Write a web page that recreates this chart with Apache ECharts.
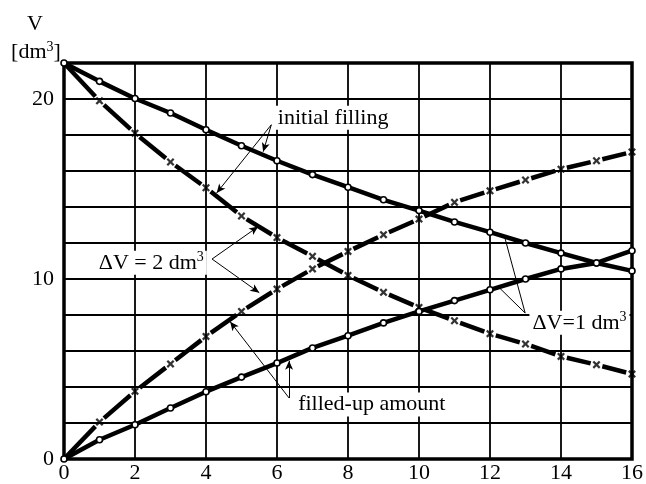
<!DOCTYPE html>
<html>
<head>
<meta charset="utf-8">
<script src="https://cdn.jsdelivr.net/npm/echarts@6/dist/echarts.min.js"></script>
<style>
html,body{margin:0;padding:0;background:#fff;}
#chart{width:646px;height:484px;}
</style>
</head>
<body>
<div id="chart"></div>
<script>
// ---- data ----
const xValues = [0,1,2,3,4,5,6,7,8,9,10,11,12,13,14,15,16];
const initialFill1 = [22, 20.98, 20.03, 19.22, 18.29, 17.4, 16.57, 15.8, 15.1, 14.4, 13.8, 13.17, 12.6, 12.0, 11.44, 10.89, 10.45];
const initialFill2 = [22, 19.9, 18.1, 16.5, 15.07, 13.5, 12.3, 11.26, 10.2, 9.26, 8.42, 7.68, 6.96, 6.39, 5.7, 5.24, 4.72];
const filledUp1 = [0, 1.07, 1.9, 2.83, 3.74, 4.55, 5.33, 6.17, 6.85, 7.56, 8.2, 8.8, 9.4, 10.0, 10.56, 10.89, 11.57];
const filledUp2 = [0, 2.05, 3.76, 5.28, 6.81, 8.2, 9.44, 10.56, 11.53, 12.46, 13.33, 14.26, 14.9, 15.5, 16.1, 16.57, 17.06];
const yTickLabels = [0, 10, 20];

// annotation texts (anchored in data coordinates); sup = superscript part
const annoTexts = [
  {text: 'initial filling', sup: '', at: [7.58, 18.96]},
  {text: 'ΔV = 2 dm', sup: '3', at: [2.46, 10.9]},
  {text: 'filled-up amount', sup: '', at: [8.67, 3.03]},
  {text: 'ΔV=1 dm', sup: '3', at: [14.52, 7.57]}
];
// leader lines with arrow heads [from, to]
const arrowLeaders = [
  [[5.84, 18.57], [5.61, 17.07]],
  [[5.84, 18.57], [4.30, 14.78]],
  [[4.17, 11.11], [5.47, 12.91]],
  [[4.17, 11.11], [5.50, 9.24]],
  [[6.34, 3.39], [6.34, 5.46]],
  [[6.34, 3.39], [4.68, 7.63]]
];
// leader lines without arrow heads
const plainLeaders = [
  [[12.99, 8.11], [12.42, 12.28]],
  [[12.99, 8.11], [12.27, 9.5]]
];

const FONT = 'Liberation Serif';
const pairs = (ys) => xValues.map((x, i) => [x, ys[i]]);
const segs = (ys) => xValues.slice(1).map((x, i) => [xValues[i], ys[i], x, ys[i + 1]]);
const X_SYMBOL = 'path://M0,2L2,0L5,3L8,0L10,2L7,5L10,8L8,10L5,7L2,10L0,8L3,5Z';

function dashRender(params, api) {
  const p0 = api.coord([api.value(0), api.value(1)]);
  const p1 = api.coord([api.value(2), api.value(3)]);
  const dx = p1[0] - p0[0], dy = p1[1] - p0[1];
  const len = Math.sqrt(dx * dx + dy * dy);
  const g0 = params.dataIndex === 0 ? 2 : 6;
  const g1 = 6;
  const ux = dx / len, uy = dy / len;
  return {
    type: 'line',
    shape: {x1: p0[0] + ux * g0, y1: p0[1] + uy * g0, x2: p1[0] - ux * g1, y2: p1[1] - uy * g1},
    style: {stroke: '#000', lineWidth: 4.5, lineCap: 'butt'}
  };
}

function solidSeries(ys, extra) {
  return Object.assign({
    type: 'line',
    data: pairs(ys),
    clip: false,
    symbol: 'circle',
    symbolSize: 6,
    showSymbol: true,
    lineStyle: {color: '#000', width: 4.5},
    itemStyle: {color: '#fff', borderColor: '#000', borderWidth: 1.6},
    emphasis: {disabled: true},
    silent: true,
    z: 4
  }, extra || {});
}
function dashSeries(ys) {
  return {
    type: 'custom',
    data: segs(ys),
    encode: {x: [0, 2], y: [1, 3]},
    renderItem: dashRender,
    clip: false,
    silent: true,
    z: 3
  };
}
function crossSeries(ys) {
  return {
    type: 'scatter',
    data: pairs(ys).slice(1),
    symbol: X_SYMBOL,
    symbolSize: 8,
    itemStyle: {color: '#000'},
    clip: false,
    silent: true,
    emphasis: {disabled: true},
    z: 3
  };
}

const markLineCommon = {
  silent: true,
  label: {show: false},
  emphasis: {disabled: true},
  lineStyle: {color: '#000', width: 1, type: 'solid'},
  animation: false
};

const chart = echarts.init(document.getElementById('chart'), null, {renderer: 'canvas'});
chart.setOption({
  animation: false,
  backgroundColor: '#fff',
  grid: {left: 64, right: 9, top: 63, bottom: 25, show: true, borderColor: '#000', borderWidth: 3.5, backgroundColor: 'transparent'},
  xAxis: {
    type: 'value', min: 0, max: 16, interval: 2,
    axisLine: {show: false}, axisTick: {show: false},
    splitLine: {show: true, lineStyle: {color: '#000', width: 1.8}},
    axisLabel: {color: '#000', fontFamily: FONT, fontSize: 22, margin: 3}
  },
  yAxis: {
    type: 'value', min: 0, max: 22, interval: 2,
    axisLine: {show: false}, axisTick: {show: false},
    splitLine: {show: true, lineStyle: {color: '#000', width: 1.8}},
    axisLabel: {
      color: '#000', fontFamily: FONT, fontSize: 22, margin: 10,
      formatter: (v) => yTickLabels.includes(v) ? String(v) : ''
    }
  },
  series: [
    dashSeries(initialFill2),
    dashSeries(filledUp2),
    crossSeries(initialFill2),
    crossSeries(filledUp2),
    solidSeries(initialFill1, {
      markLine: Object.assign({}, markLineCommon, {
        symbol: ['none', 'arrow'], symbolSize: [6, 9],
        data: arrowLeaders.map(([a, b]) => [{coord: a}, {coord: b}])
      })
    }),
    solidSeries(filledUp1, {
      markLine: Object.assign({}, markLineCommon, {
        symbol: ['none', 'none'],
        data: plainLeaders.map(([a, b]) => [{coord: a}, {coord: b}])
      })
    })
  ]
});

const richStyles = {
  n: {fontFamily: FONT, fontSize: 22, lineHeight: 24, fill: '#000'},
  s: {fontFamily: FONT, fontSize: 14, lineHeight: 14, verticalAlign: 'top', fill: '#000'}
};
function richText(t, sup) {
  return '{n|' + t + '}' + (sup ? '{s|' + sup + '}' : '');
}

const graphics = annoTexts.map((a) => {
  const p = chart.convertToPixel({gridIndex: 0}, a.at);
  return {
    type: 'text', x: p[0], y: p[1], z: 10, silent: true,
    style: {
      text: richText(a.text, a.sup), rich: richStyles, fill: '#000',
      align: 'center', verticalAlign: 'middle',
      backgroundColor: '#fff', padding: [0, 3]
    }
  };
});
graphics.push({
  type: 'text', x: 35, y: 24, silent: true,
  style: {text: richText('V', ''), rich: richStyles, align: 'center', verticalAlign: 'middle'}
});
graphics.push({
  type: 'text', x: 36, y: 52, silent: true,
  style: {text: richText('[dm', '3') + '{n|]}', rich: richStyles, align: 'center', verticalAlign: 'middle'}
});
chart.setOption({graphic: graphics});
</script>
</body>
</html>
